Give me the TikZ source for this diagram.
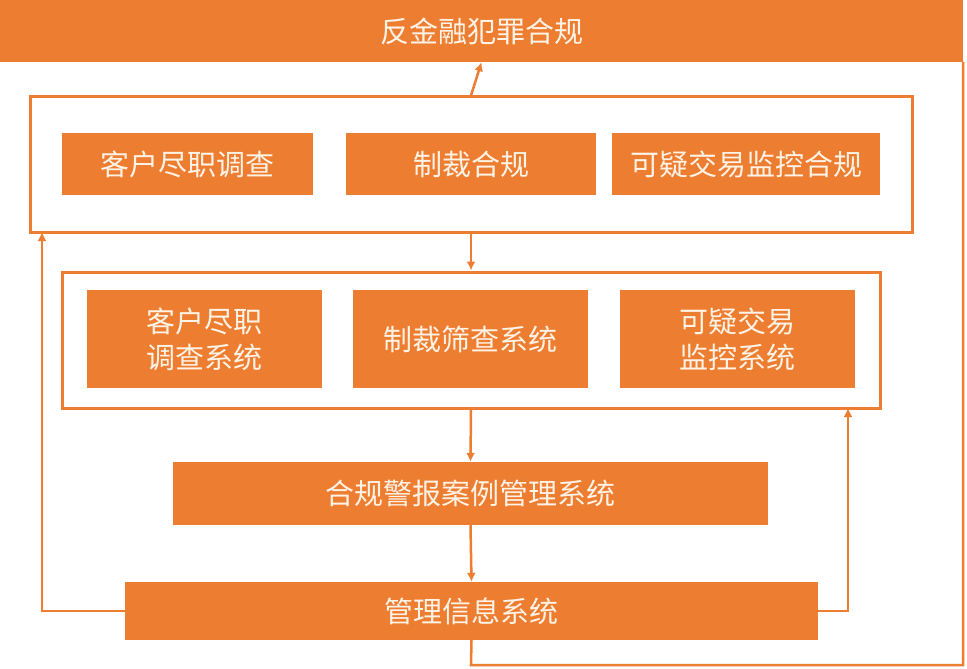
\documentclass[tikz,border=0pt]{standalone}
\usepackage{fontspec}
\newfontfamily\cjk{Noto Sans CJK SC}
\usetikzlibrary{positioning}
\usetikzlibrary{arrows.meta}
\definecolor{amlorange}{HTML}{ED7D31}
\definecolor{amltext}{HTML}{FFF3E6}

\begin{document}
\begin{tikzpicture}[x=1pt, y=-1pt,
    orangebox/.style={rectangle, fill=amlorange, inner sep=0pt, text=amltext, align=center,
        font=\cjk\fontsize{29}{36}\selectfont},
    framebox/.style={rectangle, draw=amlorange, line width=3pt, inner sep=0pt},
    link/.style={draw=amlorange, line width=2.5pt, -{Latex[length=9pt,width=9pt]}},
    plain/.style={draw=amlorange, line width=2.5pt}]
        \useasboundingbox (0,0) rectangle (967,669);

        \node[orangebox, minimum width=963pt, minimum height=62pt] (top) at (481.5,31) {反金融犯罪合规};

        \node[framebox, minimum width=882pt, minimum height=135pt] (frame1) at (471,164.5) {};
        \node[orangebox, minimum width=251pt, minimum height=62pt] (due1) at (187.5,164) {客户尽职调查};
        \node[orangebox, minimum width=250pt, minimum height=62pt] (sanc1) at (471,164) {制裁合规};
        \node[orangebox, minimum width=268pt, minimum height=62pt] (susp1) at (746,164) {可疑交易监控合规};

        \node[framebox, minimum width=818pt, minimum height=136pt] (frame2) at (471,340) {};
        \node[orangebox, minimum width=235pt, minimum height=98pt] (due2) at (204.5,339) {客户尽职\\调查系统};
        \node[orangebox, minimum width=235pt, minimum height=98pt] (sanc2) at (470.5,339) {制裁筛查系统};
        \node[orangebox, minimum width=235pt, minimum height=98pt] (susp2) at (737.5,339) {可疑交易\\监控系统};

        \node[orangebox, minimum width=595pt, minimum height=63pt] (alert) at (470.5,493.5) {合规警报案例管理系统};
        \node[orangebox, minimum width=693pt, minimum height=58pt] (mis) at (471.5,611) {管理信息系统};

        \coordinate (leftcorner) at (42,611);
        \coordinate (rightcorner) at (848,611);
        \coordinate (botleft) at (471,665);
        \coordinate (botright) at (963,665);

        \draw[link] (frame1.north) -- (top.south);
        \draw[link] (frame1.south) -- (frame2.north);
        \draw[link] (frame2.south) -- (alert.north);
        \draw[link] (alert.south) -- (mis.north);
        \draw[link] (mis.west) -- (leftcorner) -- (42,232); % back to first frame
        \draw[link] (mis.east) -- (rightcorner) -- (848,408); % back to second frame
        \draw[plain] (mis.south) -- (botleft) -- (botright) -- (top.south east);

    \end{tikzpicture}
\end{document}
